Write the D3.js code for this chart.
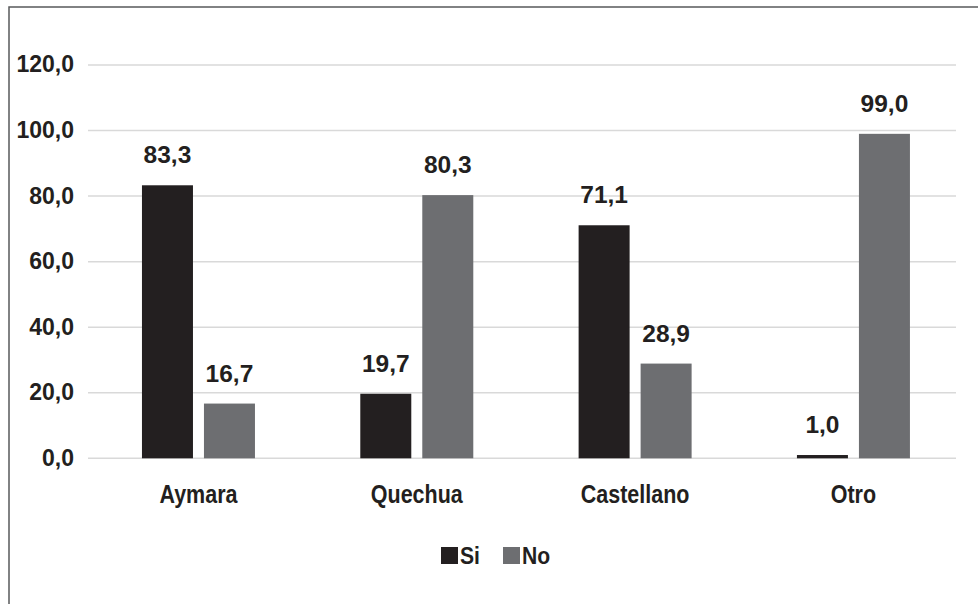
<!DOCTYPE html>
<html>
<head>
<meta charset="utf-8">
<script src="https://cdn.jsdelivr.net/npm/d3@7"></script>
<style>
html,body{margin:0;padding:0;background:#fff;}
svg{display:block;}
</style>
</head>
<body>
<svg id="chart" width="978" height="604"></svg>
<script>
const categories = ["Aymara", "Quechua", "Castellano", "Otro"];
const seriesNames = ["Si", "No"];
const siValues = [83.3, 19.7, 71.1, 1.0];
const noValues = [16.7, 80.3, 28.9, 99.0];
const yTicks = [0, 20, 40, 60, 80, 100, 120];
const colors = {Si: "#231f20", No: "#6d6e71"};

const svg = d3.select("#chart");
const fmt = v => v.toFixed(1).replace(".", ",");
const font = "'Liberation Sans',Arial,Helvetica,sans-serif";
const textColor = "#231f20";

// frame
svg.append("rect").attr("x", 9).attr("y", 7).attr("width", 1000).attr("height", 700)
  .attr("fill", "none").attr("stroke", "#58595b").attr("stroke-width", 1.5);

const y = d3.scaleLinear().domain([0, 120]).range([458.3, 65]);
const x0 = d3.scaleBand().domain(categories).range([89.3, 962.6]).padding(0);
const x1 = d3.scaleBand().domain(seriesNames).range([0, 113]).paddingInner(0.1774).paddingOuter(0);

// gridlines
svg.append("g").selectAll("line").data(yTicks).join("line")
  .attr("x1", 88).attr("x2", 956)
  .attr("y1", d => y(d)).attr("y2", d => y(d))
  .attr("stroke", "#d9d9d9").attr("stroke-width", 1.5);

// y axis labels
const yAxis = d3.axisLeft(y).tickValues(yTicks).tickFormat(fmt).tickSize(0).tickPadding(0);
const ya = svg.append("g").attr("transform", "translate(74,0)").call(yAxis);
ya.select(".domain").remove();
ya.selectAll("text").attr("font-family", font).attr("font-weight", "bold")
  .attr("font-size", 23).attr("fill", textColor).attr("dy", "0.3em");

// bars
const rows = categories.map((c, i) => ({cat: c, Si: siValues[i], No: noValues[i]}));
const groups = svg.append("g").selectAll("g").data(rows).join("g")
  .attr("transform", d => `translate(${x0(d.cat) + (x0.bandwidth() - 113) / 2},0)`);
groups.selectAll("rect").data(d => seriesNames.map(k => ({key: k, value: d[k]}))).join("rect")
  .attr("x", d => x1(d.key)).attr("width", x1.bandwidth())
  .attr("y", d => y(d.value)).attr("height", d => y(0) - y(d.value))
  .attr("fill", d => colors[d.key]);
groups.selectAll("text").data(d => seriesNames.map(k => ({key: k, value: d[k]}))).join("text")
  .attr("x", d => x1(d.key) + x1.bandwidth() / 2)
  .attr("y", d => y(d.value) - 22)
  .attr("text-anchor", "middle")
  .attr("font-family", font).attr("font-weight", "bold").attr("font-size", 24.5)
  .attr("fill", textColor).text(d => fmt(d.value));

// x axis labels (condensed look)
const xAxis = d3.axisBottom(x0).tickSize(0).tickPadding(0);
const xa = svg.append("g").attr("transform", "translate(0,503)").call(xAxis);
xa.select(".domain").remove();
xa.selectAll("text").attr("dy", 0).attr("font-family", font).attr("font-weight", "bold")
  .attr("font-size", 25).attr("fill", textColor).attr("transform", "scale(0.86,1)");

// legend
const legendX = [441, 503];
const lg = svg.append("g").selectAll("g").data(seriesNames).join("g")
  .attr("transform", (d, i) => `translate(${legendX[i]},547)`);
lg.append("rect").attr("width", 17).attr("height", 17).attr("fill", d => colors[d]);
lg.append("text").attr("x", 19 / 0.88).attr("y", 17)
  .attr("transform", "scale(0.88,1)")
  .attr("font-family", font).attr("font-weight", "bold").attr("font-size", 24)
  .attr("fill", textColor).text(d => d);
</script>
</body>
</html>
